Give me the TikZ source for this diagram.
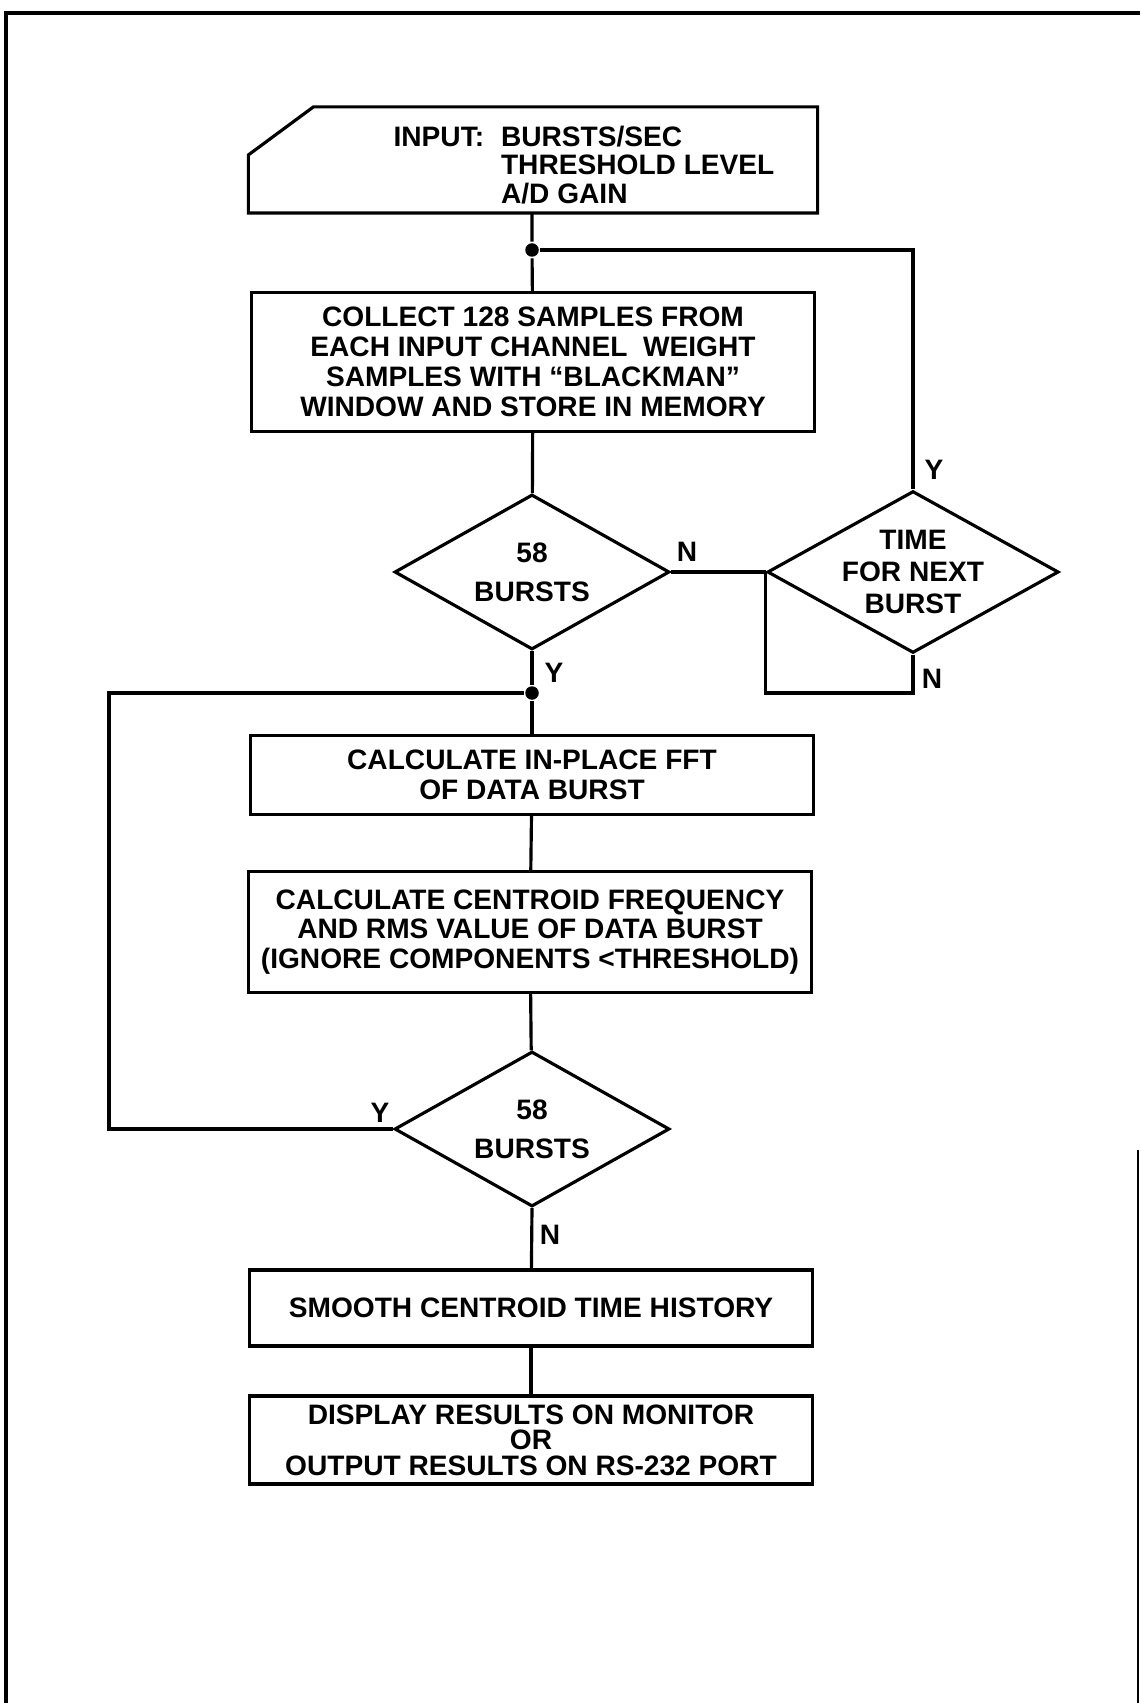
\documentclass[tikz,border=0pt]{standalone}
\usepackage{fontspec}
\setmainfont{Liberation Sans}
\usetikzlibrary{shapes.geometric}

\begin{document}
\begin{tikzpicture}[x=0.2mm,y=-0.2mm,line width=1.8pt,
  font=\fontsize{16}{17}\selectfont\bfseries,
  box/.style={draw,minimum width=112.6mm,align=center,inner sep=0pt},
  decision/.style={draw,diamond,aspect=1.8,inner sep=0pt,
    minimum width=55mm,minimum height=31mm,align=center},
  dot/.style={circle,fill,inner sep=0pt,minimum size=2.7mm},
  yn/.style={inner sep=0pt}]
\useasboundingbox (0,0) rectangle (1140,1703);
% frame
\draw[line width=2.2pt] (6,1703) -- (6,13) -- (1140,13);
\draw[line width=0.6pt] (1138,1150) -- (1138,1703);

% input
\node[minimum width=113.2mm,minimum height=20.6mm,inner sep=0pt] (input) at (533,160) {};
\draw (input.south west) -- (input.south east) -- (input.north east)
  -- ([xshift=13mm]input.north west) -- ([yshift=-9.6mm]input.north west) -- cycle;
\node[font=\fontsize{16}{15.7}\selectfont\bfseries,inner sep=0pt] (inputtext) at (584,169)
  {\begin{tabular}{@{}l@{\hspace{0.6em}}l@{}}INPUT: & BURSTS/SEC\\ & THRESHOLD LEVEL\\ & A/D GAIN\end{tabular}};

\node[dot] (j1) at (532,250) {};
\node[box,minimum height=27.8mm] (collect) at (533,362)
  {COLLECT 128 SAMPLES FROM\\EACH INPUT CHANNEL\ \ WEIGHT\\SAMPLES WITH ``BLACKMAN''\\WINDOW AND STORE IN MEMORY};
\node[decision,font=\fontsize{16}{22}\selectfont\bfseries] (d1) at (532,572) {58\\BURSTS};
\node[decision,font=\fontsize{16}{18}\selectfont\bfseries] (time) at (913,572) {TIME\\FOR NEXT\\BURST};
\node[dot] (j2) at (532,693) {};
\coordinate (loopc) at (time.west |- j2);
\coordinate (back) at (109,693);
\node[box,minimum height=15.8mm] (fft) at (532,775) {CALCULATE IN-PLACE FFT\\OF DATA BURST};
\node[box,minimum height=24.2mm] (centroid) at (530,932)
  {CALCULATE CENTROID FREQUENCY\\AND RMS VALUE OF DATA BURST\\(IGNORE COMPONENTS <THRESHOLD)};
\node[decision,font=\fontsize{16}{22}\selectfont\bfseries] (d2) at (532,1129) {58\\BURSTS};
\node[box,minimum height=15.2mm] (smooth) at (531,1308) {SMOOTH CENTROID TIME HISTORY};
\node[box,minimum height=17.6mm,font=\fontsize{16}{14.5}\selectfont\bfseries] (display) at (531,1440)
  {DISPLAY RESULTS ON MONITOR\\OR\\OUTPUT RESULTS ON RS-232 PORT};

% labels
\node[yn] (n1) at ([xshift=3.2mm,yshift=4mm]d1.east) {N};
\node[yn] (y1) at ([xshift=4.4mm,yshift=-4.4mm]d1.south) {Y};
\node[yn] (y2) at ([xshift=4.2mm,yshift=4mm]time.north) {Y};
\node[yn] (n2) at ([xshift=3.8mm,yshift=-4.8mm]time.south) {N};
\node[yn] (y3) at ([xshift=-2.6mm,yshift=3.2mm]d2.west) {Y};
\node[yn] (n3) at ([xshift=3.6mm,yshift=-5.4mm]d2.south) {N};

% connectors
\draw (input.south -| j1) -- (j1) -- (collect);
\draw (j1) -| (time.north);
\draw (collect) -- (d1);
\draw (d1.east) -- (time.west);
\draw (time.south) |- (loopc) -- (time.west);
\draw (d1.south) -- (j2) -- (fft);
\draw (j2) -- (back) |- (d2.west);
\draw (fft) -- (centroid);
\draw (centroid) -- (d2);
\draw (d2.south) -- (smooth);
\draw (smooth) -- (display);
\end{tikzpicture}
\end{document}
